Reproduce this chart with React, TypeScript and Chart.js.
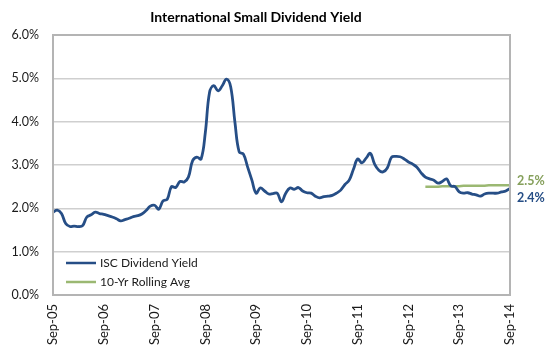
import React, { useEffect, useRef } from "react";
import { Chart, registerables } from "chart.js";

Chart.register(...registerables);

const title = "International Small Dividend Yield";
const seriesNames = ["ISC Dividend Yield", "10-Yr Rolling Avg"];
const startYear = 2005;
const monthNames = ["Jan", "Feb", "Mar", "Apr", "May", "Jun", "Jul", "Aug", "Sep", "Oct", "Nov", "Dec"];

// Monthly ISC dividend yield (%), Sep-05 .. Sep-14
const iscYield = [
  1.91, 1.96, 1.88, 1.65, 1.58, 1.59, 1.58, 1.60, 1.80, 1.85, 1.91, 1.88,
  1.86, 1.83, 1.80, 1.76, 1.71, 1.74, 1.77, 1.81, 1.83, 1.87, 1.95, 2.05,
  2.07, 1.98, 2.17, 2.21, 2.50, 2.48, 2.62, 2.61, 2.72, 3.10, 3.18, 3.14,
  3.75, 4.68, 4.83, 4.71, 4.83, 4.98, 4.80, 3.98, 3.30, 3.25, 2.95, 2.65,
  2.35, 2.47, 2.40, 2.33, 2.34, 2.35, 2.15, 2.35, 2.47, 2.44, 2.48, 2.40,
  2.36, 2.35, 2.28, 2.24, 2.27, 2.28, 2.30, 2.35, 2.42, 2.55, 2.65, 2.90,
  3.14, 3.05, 3.16, 3.27, 3.02, 2.88, 2.84, 2.93, 3.18, 3.20, 3.19, 3.14,
  3.07, 3.02, 2.95, 2.82, 2.72, 2.68, 2.65, 2.58, 2.62, 2.68, 2.52, 2.50,
  2.38, 2.35, 2.36, 2.33, 2.31, 2.28, 2.33, 2.35, 2.35, 2.35, 2.38, 2.40,
  2.46,
];

// 10-year rolling average (%), available from Jan-13
const rollingStartIndex = 88;
const rollingAvg = [
  2.50, 2.50, 2.50, 2.50, 2.51, 2.51, 2.51, 2.51, 2.51, 2.52, 2.52,
  2.52, 2.52, 2.52, 2.52, 2.53, 2.53, 2.53, 2.53, 2.53, 2.53,
];

const yTicks = [0, 1, 2, 3, 4, 5, 6];
const endLabels = ["2.5%", "2.4%"];

const BLUE = "#264E86";
const GREEN = "#9BB872";
const GREEN_TEXT = "#86A05C";
const FONT = "Lato, 'Open Sans', sans-serif";

const labels: string[] = iscYield.map((_, i) => {
  const mIdx = (8 + i) % 12;
  const yr = startYear + Math.floor((8 + i) / 12);
  return `${monthNames[mIdx]}-${String(yr % 100).padStart(2, "0")}`;
});

const rollingData: (number | null)[] = iscYield.map((_, i) =>
  i >= rollingStartIndex ? rollingAvg[i - rollingStartIndex] ?? null : null
);

const overlayPlugin = {
  id: "overlay",
  afterDraw(chart: any) {
    const { ctx, chartArea } = chart;
    const { left, right, top, bottom } = chartArea;
    ctx.save();
    // plot border
    ctx.strokeStyle = "#B4B4B4";
    ctx.lineWidth = 2;
    ctx.strokeRect(left, top, right - left, bottom - top);

    // title
    ctx.fillStyle = "#000";
    ctx.font = `bold 14px ${FONT}`;
    ctx.textAlign = "center";
    ctx.textBaseline = "middle";
    ctx.fillText(title, 256, 17);

    // legend
    const colors = [BLUE, GREEN];
    const rows = [263, 282];
    ctx.font = `12px ${FONT}`;
    ctx.textAlign = "left";
    rows.forEach((y, i) => {
      ctx.strokeStyle = colors[i];
      ctx.lineWidth = 2.5;
      ctx.beginPath();
      ctx.moveTo(66, y);
      ctx.lineTo(96, y);
      ctx.stroke();
      ctx.fillStyle = "#1a1a1a";
      ctx.fillText(seriesNames[i], 100, y);
    });

    // end labels
    const ys = chart.scales.y;
    ctx.font = `bold 12.5px ${FONT}`;
    ctx.fillStyle = GREEN_TEXT;
    ctx.fillText(endLabels[0], 517, ys.getPixelForValue(2.5) - 6);
    ctx.fillStyle = BLUE;
    ctx.fillText(endLabels[1], 517, ys.getPixelForValue(2.4) + 7);
    ctx.restore();
  },
};

export default function App() {
  const ref = useRef<HTMLCanvasElement | null>(null);
  useEffect(() => {
    if (!ref.current) return;
    const chart = new Chart(ref.current, {
      type: "line",
      data: {
        labels,
        datasets: [
          {
            label: seriesNames[0],
            data: iscYield,
            borderColor: BLUE,
            borderWidth: 2.8,
            pointRadius: 0,
            tension: 0.4,
            fill: false,
          },
          {
            label: seriesNames[1],
            data: rollingData,
            borderColor: GREEN,
            borderWidth: 2.5,
            pointRadius: 0,
            tension: 0,
            fill: false,
          },
        ],
      },
      options: {
        animation: false,
        responsive: false,
        maintainAspectRatio: false,
        layout: { padding: { top: 35, right: 35, left: 1, bottom: 0 } },
        plugins: {
          legend: { display: false },
          title: { display: false },
          tooltip: { enabled: false },
        },
        scales: {
          x: {
            type: "category",
            offset: false,
            grid: { display: false, drawTicks: false },
            border: { display: true, color: "#B4B4B4", width: 2 },
            ticks: {
              autoSkip: false,
              maxRotation: 90,
              minRotation: 90,
              padding: 9,
              color: "#1a1a1a",
              font: { family: FONT, size: 13 },
              callback: function (this: any, value: any, index: number) {
                return index % 12 === 0 ? labels[index] : null;
              },
            },
            afterFit: (s: any) => {
              s.height = 50;
            },
          },
          y: {
            min: 0,
            max: 6,
            afterBuildTicks: (s: any) => {
              s.ticks = yTicks.map((v) => ({ value: v }));
            },
            grid: { color: "#CFCFCF", lineWidth: 1.5, drawTicks: false },
            border: { display: true, color: "#B4B4B4", width: 2 },
            ticks: {
              padding: 14,
              color: "#1a1a1a",
              font: { family: FONT, size: 12.5 },
              callback: (v: any) => Number(v).toFixed(1) + "%",
            },
            afterFit: (s: any) => {
              s.width = 52;
            },
          },
        },
      },
      plugins: [overlayPlugin],
    });
    return () => chart.destroy();
  }, []);
  return (
    <div style={{ position: "fixed", left: 0, top: 0, width: 545, height: 345, background: "#fff" }}>
      <canvas ref={ref} width={545} height={345} style={{ width: 545, height: 345 }} />
    </div>
  );
}
